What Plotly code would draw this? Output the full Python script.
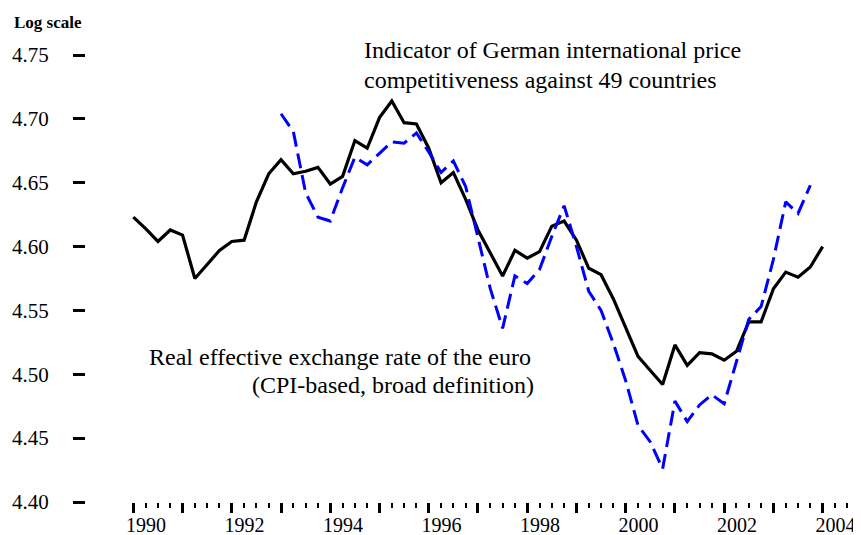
import plotly.graph_objects as go

# ---- data (quarterly, 1990Q1 .. 2004Q1) ----
first_year = 1990
n_quarters = 57
german_indicator = [
    4.623, 4.614, 4.604, 4.613, 4.609, 4.575, 4.586, 4.597, 4.604, 4.605,
    4.635, 4.657, 4.668, 4.657, 4.659, 4.662, 4.649, 4.655, 4.683, 4.677,
    4.701, 4.714, 4.697, 4.696, 4.677, 4.650, 4.658, 4.637, 4.613, 4.595,
    4.577, 4.597, 4.591, 4.596, 4.616, 4.620, 4.605, 4.583, 4.578, 4.559,
    4.537, 4.514, 4.503, 4.492, 4.523, 4.507, 4.517, 4.516, 4.511, 4.518,
    4.541, 4.541, 4.567, 4.580, 4.576, 4.584, 4.600,
]
# euro real effective exchange rate starts 1993Q1, ends 2003Q4
euro_start_index = 12
euro_reer = [
    4.704, 4.690, 4.642, 4.623, 4.620, 4.646, 4.670, 4.664, 4.673, 4.682,
    4.681, 4.689, 4.674, 4.658, 4.667, 4.647, 4.607, 4.567, 4.536, 4.577,
    4.571, 4.582, 4.608, 4.632, 4.600, 4.565, 4.550, 4.524, 4.495, 4.460,
    4.447, 4.426, 4.479, 4.463, 4.476, 4.484, 4.477, 4.511, 4.543, 4.553,
    4.590, 4.635, 4.626, 4.648,
]
y_ticks = [4.40, 4.45, 4.50, 4.55, 4.60, 4.65, 4.70, 4.75]
label_years = [1990, 1992, 1994, 1996, 1998, 2000, 2002, 2004]
tick_years = list(range(1990, 2005))

quarters = [first_year + i / 4 for i in range(n_quarters)]
euro_x = quarters[euro_start_index:euro_start_index + len(euro_reer)]
minor_ticks = [y + q / 4 for y in tick_years for q in (1, 2, 3)]

FONT = "Liberation Serif, Times New Roman, serif"

fig = go.Figure()
fig.add_trace(go.Scatter(x=quarters, y=german_indicator, mode="lines",
                         line=dict(color="black", width=3.2), showlegend=False))
fig.add_trace(go.Scatter(x=euro_x, y=euro_reer, mode="lines",
                         line=dict(color="#0000ff", width=3, dash="15px,7px"),
                         showlegend=False))
fig.add_trace(go.Scatter(x=[], y=[], xaxis="x2", showlegend=False, hoverinfo="skip"))

xr = [1989.039, 2004.779]
fig.update_layout(
    width=853, height=527,
    margin=dict(l=78, r=0, t=47, b=33),
    paper_bgcolor="white", plot_bgcolor="white",
    font=dict(family=FONT, color="black", size=20),
    xaxis=dict(range=xr, tickvals=tick_years, showticklabels=False,
               ticks="outside", ticklen=10, tickwidth=3, tickcolor="black",
               minor=dict(tickvals=minor_ticks, ticks="outside", ticklen=5,
                          tickwidth=2, tickcolor="black"),
               showgrid=False, zeroline=False, showline=False),
    xaxis2=dict(range=xr, overlaying="x", anchor="y", side="bottom",
                tickvals=[y + 0.26 for y in label_years],
                ticktext=[str(y) for y in label_years],
                ticks="", ticklabelstandoff=9,
                tickfont=dict(family=FONT, size=20, color="black"),
                showgrid=False, zeroline=False, showline=False),
    yaxis=dict(range=[4.40, 4.75], tickvals=y_ticks,
               ticktext=[f"{v:.2f}" for v in y_ticks],
               ticks="outside", ticklen=12, tickwidth=3, tickcolor="black",
               ticklabelstandoff=20,
               tickfont=dict(family=FONT, size=21, color="black"),
               showgrid=False, zeroline=False, showline=False),
)

def note(text, x, y, size=24, bold=False):
    fig.add_annotation(text=f"<b>{text}</b>" if bold else text, x=x, y=y,
                       xref="paper", yref="paper", xanchor="left", yanchor="middle",
                       showarrow=False, font=dict(family=FONT, size=size, color="black"))

note("Log scale", -0.0955, 1.0738, size=17, bold=True)
note("Indicator of German international price", 0.3561, 1.0112)
note("competitiveness against 49 countries", 0.3561, 0.9441)
note("Real effective exchange rate of the euro", 0.0787, 0.3244)
note("(CPI-based, broad definition)", 0.2116, 0.2617)

fig.write_html("out.html")
